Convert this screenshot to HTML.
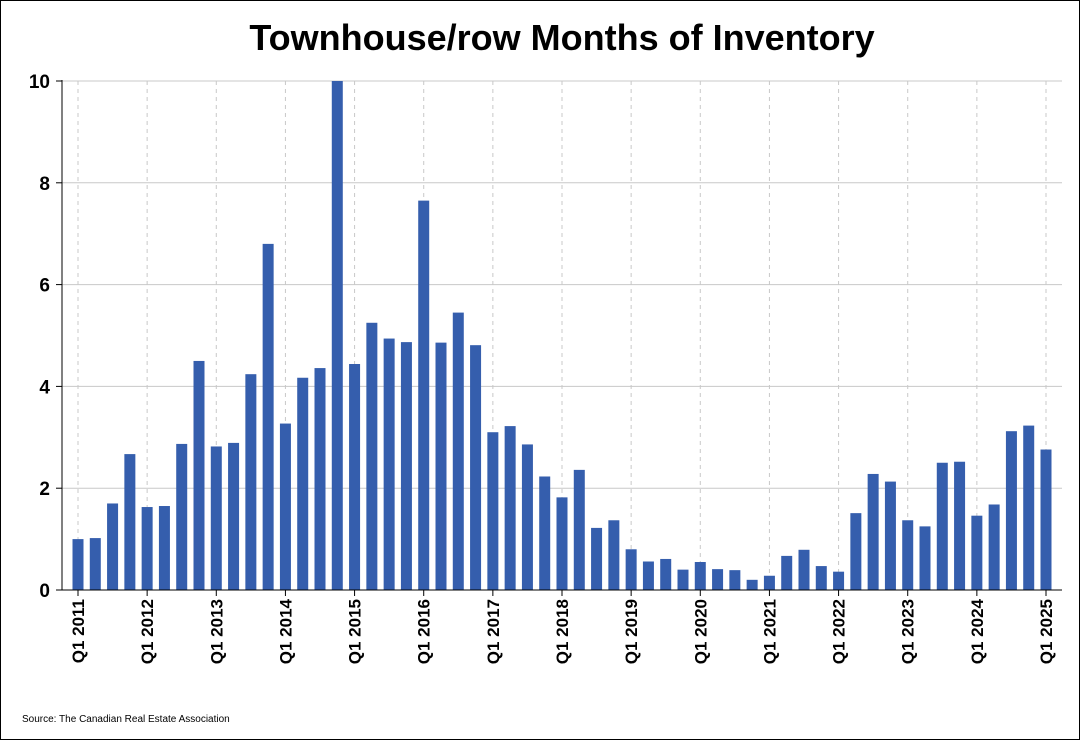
<!DOCTYPE html>
<html><head><meta charset="utf-8"><style>
body{margin:0;background:#fff}
svg{display:block;font-family:"Liberation Sans",Arial,sans-serif}
</style></head><body>
<svg id="c" width="1080" height="740">
<rect x="0.5" y="0.5" width="1079" height="739" fill="#fff" stroke="#000"/>
<text x="562" y="50" text-anchor="middle" font-size="36" font-weight="bold">Townhouse/row Months of Inventory</text>
<text x="22" y="722" font-size="10">Source: The Canadian Real Estate Association</text>
<g id="grid"></g><g id="bars"></g><g id="axes"></g>
</svg>
<script>
const years=["2011","2012","2013","2014","2015","2016","2017","2018","2019","2020","2021","2022","2023","2024","2025"];
const values=[1.0,1.02,1.7,2.67,1.63,1.65,2.87,4.5,2.82,2.89,4.24,6.8,3.27,4.17,4.36,10.0,4.44,5.25,4.94,4.87,7.65,4.86,5.45,4.81,3.1,3.22,2.86,2.23,1.82,2.36,1.22,1.37,0.8,0.56,0.61,0.4,0.55,0.41,0.39,0.2,0.28,0.67,0.79,0.47,0.36,1.51,2.28,2.13,1.37,1.25,2.5,2.52,1.46,1.68,3.12,3.23,2.76];
const yTicks=[0,2,4,6,8,10];
const NS="http://www.w3.org/2000/svg";
const x0=78,x1=1046,y0=590,y10=81,L=62,R=1062;
const xs=i=>x0+(x1-x0)*i/(values.length-1);
const ys=v=>y0-(y0-y10)*v/10;
function mk(t,a,p){const e=document.createElementNS(NS,t);for(const k in a)e.setAttribute(k,a[k]);p.appendChild(e);return e;}
const g=document.getElementById('grid'),b=document.getElementById('bars'),ax=document.getElementById('axes');
yTicks.forEach(t=>{
 const l=mk('line',{x1:L,x2:R,y1:ys(t),y2:ys(t),stroke:'#c8c8c8','stroke-width':1},g);
 
 
 const tk=mk('line',{x1:L-6,x2:L,y1:ys(t),y2:ys(t),stroke:'#000'},ax);
 
 
 const tx=mk('text',{x:L-12,y:ys(t)+7,'text-anchor':'end','font-size':19,'font-weight':'bold'},ax);
 tx.textContent=t;
 
 
});
years.forEach((y,k)=>{
 const x=xs(k*4);
 const l=mk('line',{x1:x,x2:x,y1:y10,y2:y0,stroke:'#c8c8c8','stroke-dasharray':'4,4'},g);
 
 
 const tk=mk('line',{x1:x,x2:x,y1:y0,y2:y0+6,stroke:'#000'},ax);
 
 
 const tx=mk('text',{x:0,y:0,'text-anchor':'end','font-size':17,'font-weight':'bold',transform:`translate(${x+6},${y0+9}) rotate(-90)`},ax);
 tx.textContent='Q1 '+y;
 
 
});
values.forEach((v,i)=>{
 const r=mk('rect',{x:xs(i)-5.5,y:ys(v),width:11,height:y0-ys(v),fill:'#355ead'},b);
 
 
});
const ya=mk('line',{x1:L,x2:L,y1:y10-1,y2:y0,stroke:'#000'},ax);


const xa=mk('line',{x1:L,x2:R,y1:y0,y2:y0,stroke:'#000'},ax);


</script>
</body></html>
